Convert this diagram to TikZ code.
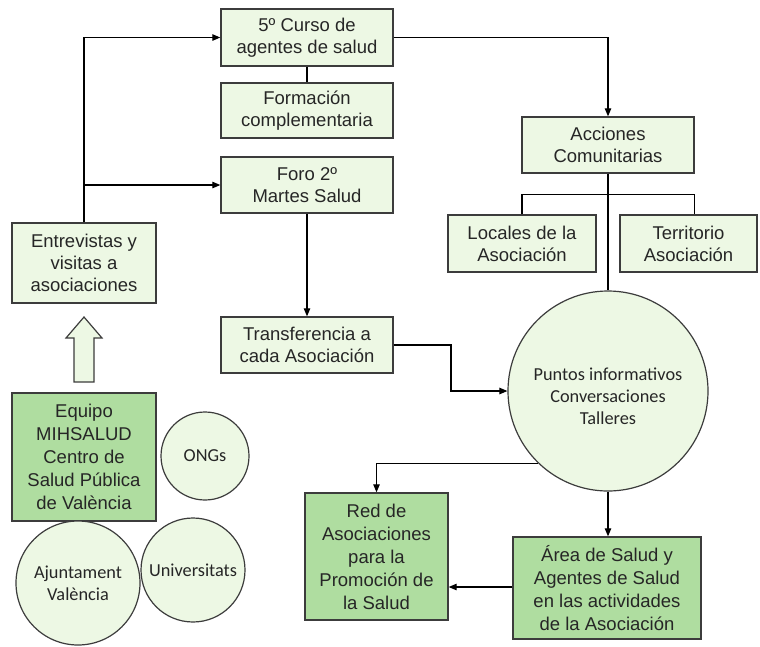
\documentclass[tikz,border=0pt]{standalone}
\usepackage{fontspec}
\setmainfont{Liberation Sans}
\newfontfamily\calib{Carlito}
\usetikzlibrary{arrows.meta,shadows}

\definecolor{paleg}{HTML}{EDF8E4}
\definecolor{deepg}{HTML}{AFDDA0}
\definecolor{edgec}{HTML}{3C3C3C}
\definecolor{inkc}{HTML}{262626}

\tikzset{
  boxbase/.style={draw=edgec, line width=1.4pt, text=inkc, align=center,
    inner sep=0pt, font=\fontsize{18.5}{22}\selectfont,
    drop shadow={shadow xshift=1.2pt, shadow yshift=-1.2pt, opacity=0.25, fill=black}},
  lightbox/.style={boxbase, rectangle, fill=paleg},
  greenbox/.style={boxbase, rectangle, fill=deepg, font=\fontsize{18.5}{23}\selectfont},
  roundnode/.style={draw=edgec, line width=1.2pt, circle, fill=paleg, text=inkc,
    align=center, inner sep=0pt, font=\calib\fontsize{18.3}{22}\selectfont},
  roundtext/.style={text=inkc, align=center, inner sep=0pt, font=\calib\fontsize{18.3}{22}\selectfont},
  link/.style={draw=black, line width=1.1pt},
  arrowlink/.style={link, -{Triangle[length=8pt,width=6.5pt]}},
}

\begin{document}
\begin{tikzpicture}[x=1pt, y=-1pt]
\useasboundingbox[fill=white] (0,0) rectangle (760,646);

% top column of training boxes
\node[lightbox, minimum width=172pt, minimum height=57pt] (curso) at (307,37.5) {5º Curso de\\agentes de salud};
\node[lightbox, minimum width=172pt, minimum height=55pt] (formacion) at (307,110.5) {Formación\\complementaria};
\node[lightbox, minimum width=172pt, minimum height=56pt] (foro) at (307,185) {Foro 2º\\Martes Salud};
\node[lightbox, minimum width=172pt, minimum height=56pt] (transf) at (307,345) {Transferencia a\\cada Asociación};

% left column
\node[lightbox, minimum width=144pt, minimum height=80pt] (entrev) at (84,263) {Entrevistas y\\visitas a\\asociaciones};
\node[greenbox, minimum width=144pt, minimum height=128pt] (equipo) at (84,457) {Equipo\\MIHSALUD\\Centro de\\Salud Pública\\de València};

% partner circles
\node[roundnode, minimum size=88pt] (ongs) at (205,456) {ONGs};
\node[roundnode, minimum size=124pt] (ajunt) at (78,583) {Ajuntament\\València};
\node[roundnode, minimum size=104pt] (univ) at (193,570) {Universitats};

% community actions
\node[lightbox, minimum width=172pt, minimum height=56pt] (acciones) at (608,145) {Acciones\\Comunitarias};
\node[lightbox, minimum width=148pt, minimum height=57pt] (locales) at (522,243.5) {Locales de la\\Asociación};
\node[lightbox, minimum width=137pt, minimum height=57pt] (territorio) at (688.5,243.5) {Territorio\\Asociación};
\node[roundnode, minimum size=200pt] (puntos) at (608,391) {};
\node[roundtext] (puntostxt) at (608,396) {Puntos informativos\\Conversaciones\\Talleres};

% outcomes
\node[greenbox, minimum width=143pt, minimum height=127pt] (red) at (376.5,556.5) {Red de\\Asociaciones\\para la\\Promoción de\\la Salud};
\node[greenbox, minimum width=188pt, minimum height=102pt] (area) at (607,588) {Área de Salud y\\Agentes de Salud\\en las actividades\\de la Asociación};

% hollow arrow from the team up to the interviews
\draw[draw=edgec, line width=1.2pt, fill=paleg, line join=miter]
  (74,382) -- (74,338) -- (66,338) -- (84,317) -- (102,338) -- (94,338) -- (94,382) -- cycle;

% connectors
\draw[arrowlink] (entrev.north) |- (curso.west);
\draw[arrowlink] (entrev.north |- foro.west) -- (foro.west);
\draw[link] (curso.south) -- (formacion.north);
\draw[arrowlink] (foro.south) -- (transf.north);
\draw[arrowlink] (curso.east) -| (acciones.north);
\draw[link] (acciones.south) -- (puntos.north);
\draw[link] (locales.north) -- ++(0,-20) -| (territorio.north -| acciones.east);
\draw[arrowlink] (transf.east) -- (451,345) |- (puntos.west);
\draw[arrowlink] (puntos.226) -| (red.north);
\draw[arrowlink] (puntos.south) -- (puntos.south |- area.north);
\draw[arrowlink] (area.west |- 0,587) -- (red.east |- 0,587);
\end{tikzpicture}
\end{document}
